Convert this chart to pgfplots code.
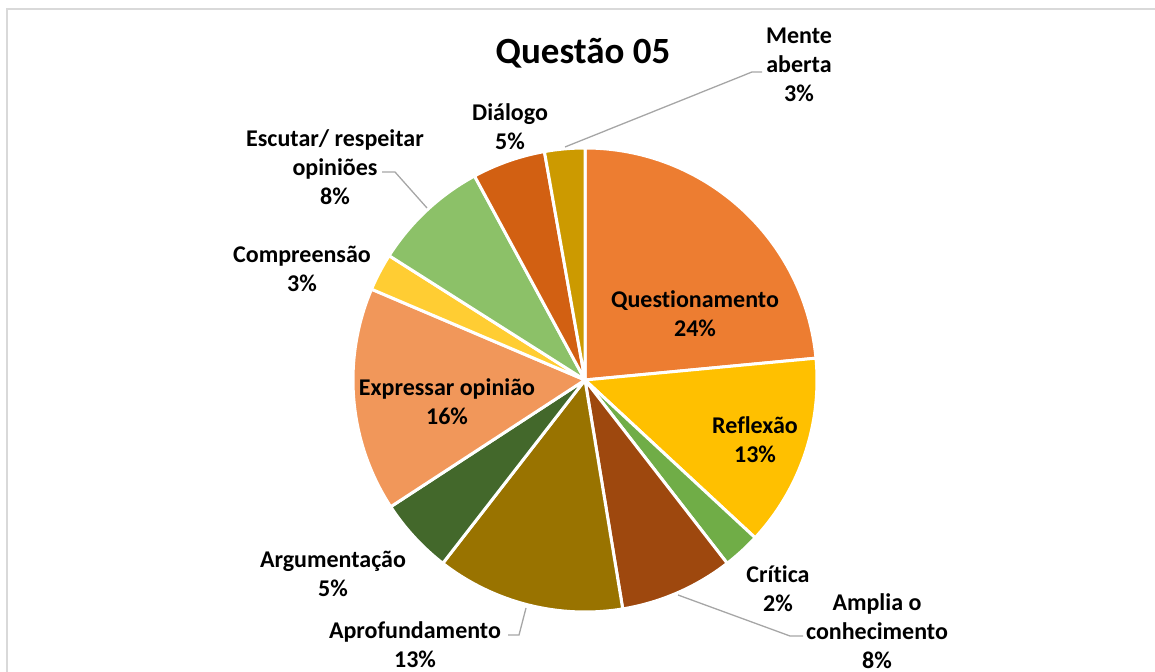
\documentclass[border=0pt]{standalone}
\usepackage{pgfplots}
\pgfplotsset{compat=1.18}
\usepackage{pgfplotstable}
\usepackage{fontspec}
\setmainfont{Carlito}[Ligatures=NoCommon]
\definecolor{cQ}{HTML}{ED7D31}
\definecolor{cR}{HTML}{FFC000}
\definecolor{cCr}{HTML}{70AD47}
\definecolor{cAm}{HTML}{9E480E}
\definecolor{cAp}{HTML}{997300}
\definecolor{cAr}{HTML}{43682B}
\definecolor{cEx}{HTML}{F1975A}
\definecolor{cCo}{HTML}{FFCD33}
\definecolor{cEs}{HTML}{8CC168}
\definecolor{cDi}{HTML}{D26012}
\definecolor{cMe}{HTML}{CC9A00}
\definecolor{leader}{HTML}{A6A6A6}
\definecolor{frame}{HTML}{D9D9D9}

% slices clockwise from 12 o'clock
\pgfplotstableread{
value color
23.5 cQ
13.4 cR
2.6  cCr
7.9  cAm
13.1 cAp
5.3  cAr
15.6 cEx
2.6  cCo
8.1  cEs
5.1  cDi
2.8  cMe
}\piedata

\tikzset{lbl/.style={font=\fontsize{24bp}{29bp}\selectfont\bfseries, align=center, text=black, inner sep=0pt}}

\begin{document}
\begin{tikzpicture}[x=1bp,y=1bp]
\useasboundingbox (0,0) rectangle (1155,672);
\draw[frame, line width=1.5bp] (7,-20) rectangle (1170,663);
\begin{axis}[at={(0,0)}, anchor=south west, width=1155bp, height=672bp,
  scale only axis, hide axis, xmin=0, xmax=1155, ymin=0, ymax=672,
  y dir=reverse, clip=false]
\pgfplotsextra{
  \pgfplotstablegetrowsof{\piedata}
  \pgfmathtruncatemacro\nrows{\pgfplotsretval-1}
  \gdef\cum{90}
  \foreach \i in {0,...,\nrows}{
    \pgfplotstablegetelem{\i}{value}\of\piedata \let\sliceval\pgfplotsretval
    \pgfplotstablegetelem{\i}{color}\of\piedata \let\slicecol\pgfplotsretval
    \pgfmathsetmacro\sa{\cum}
    \pgfmathsetmacro\sb{\cum-3.6*\sliceval}
    \fill[fill=\slicecol, draw=white, line width=3bp, line join=round]
      (axis cs:585,380) -- ++(\sa:232bp) arc[start angle=\sa, end angle=\sb, radius=232bp] -- cycle;
    \xdef\cum{\sb}
  }
}
% leader lines
\draw[leader, line width=1.3bp] (axis cs:565,147) -- (axis cs:752,72) -- (axis cs:762,72);
\draw[leader, line width=1.3bp] (axis cs:678,595) -- (axis cs:790,636) -- (axis cs:803,636);
\draw[leader, line width=1.3bp] (axis cs:526,608) -- (axis cs:519,635) -- (axis cs:508,635);
\draw[leader, line width=1.3bp] (axis cs:427,208) -- (axis cs:395,172) -- (axis cs:382,172);
% title
\node[font=\fontsize{37bp}{44bp}\selectfont\bfseries, text=black] at (axis cs:583,53) {Questão 05};
% labels
\node[lbl] at (axis cs:695,314) {Questionamento\\24\%};
\node[lbl] at (axis cs:755,440) {Reflexão\\13\%};
\node[lbl] at (axis cs:778,589) {Crítica\\2\%};
\node[lbl] at (axis cs:877,631) {Amplia o\\conhecimento\\8\%};
\node[lbl] at (axis cs:415,645) {Aprofundamento\\13\%};
\node[lbl] at (axis cs:333,574) {Argumentação\\5\%};
\node[lbl] at (axis cs:447,402) {Expressar opinião\\16\%};
\node[lbl] at (axis cs:302,269) {Compreensão\\3\%};
\node[lbl] at (axis cs:335,167) {Escutar/ respeitar\\opiniões\\8\%};
\node[lbl] at (axis cs:510,127) {Diálogo\\5\%};
\node[lbl] at (axis cs:799,65) {Mente\\aberta\\3\%};
\end{axis}
\end{tikzpicture}
\end{document}
